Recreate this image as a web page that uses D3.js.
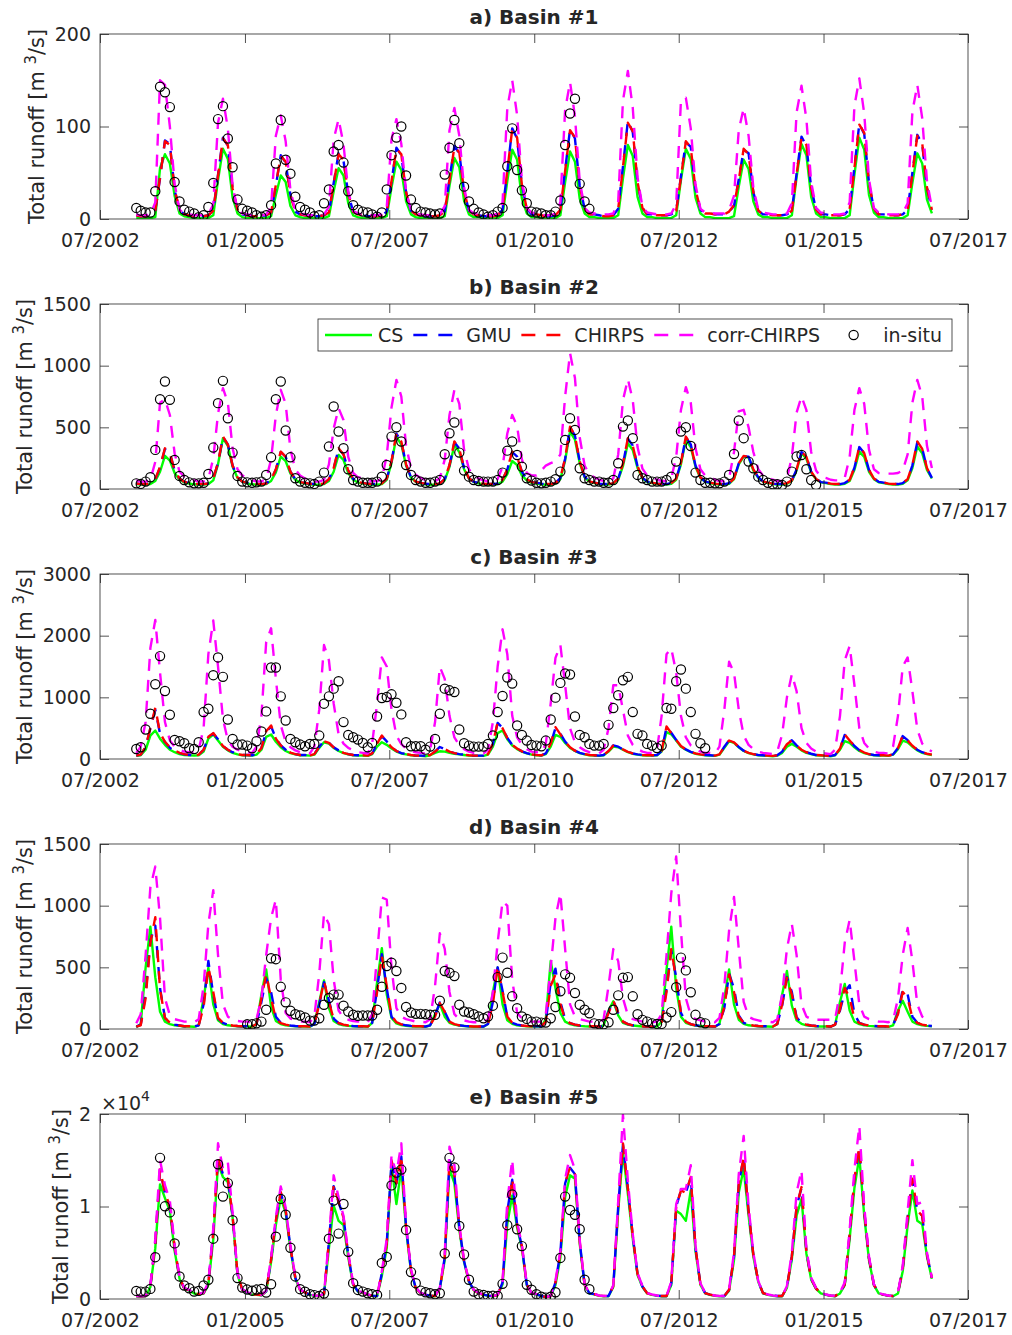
<!DOCTYPE html>
<html>
<head>
<meta charset="utf-8">
<title>Total runoff</title>
<style>
  body { margin: 0; background: #fff; }
  svg text { font-family: "DejaVu Sans", sans-serif; fill: #262626; }
  .axis text { font-size: 19px; }
  .title { font-size: 20px; font-weight: bold; text-anchor: middle; }
  .ylab { font-size: 20.9px; text-anchor: middle; }
  .leg { font-size: 19px; }
</style>
</head>
<body>
<div id="chart"></div>
<script src="https://cdn.jsdelivr.net/npm/d3@7/dist/d3.min.js"></script>
<script>
// ---- labels and axes ----
var panelTitles = ["a) Basin #1", "b) Basin #2", "c) Basin #3", "d) Basin #4", "e) Basin #5"];
var yMaxes = [200, 1500, 3000, 1500, 20000];
var yTicks = [[0, 100, 200], [0, 500, 1000, 1500], [0, 1000, 2000, 3000], [0, 500, 1000, 1500], [0, 10000, 20000]];
var xTickLabels = ["07/2002", "01/2005", "07/2007", "01/2010", "07/2012", "01/2015", "07/2017"];
var seriesNames = ["CS", "GMU", "CHIRPS", "corr-CHIRPS", "in-situ"];
var firstMonth = "01/2003";   // monthly values, Jan 2003 .. Dec 2016 (null = no value)
var nMonths = 168;

// ---- Basin #1 ----
var basin1CS = [
  null,1,1,1,1,2,55,70,60,25,6,3,
  2,1,1,1,1,4,42,76,65,23,6,2,
  1,1,1,1,1,3,26,47,40,14,4,2,
  1,1,1,1,1,3,30,55,47,17,4,2,
  1,1,1,1,1,3,34,62,53,19,5,2,
  1,1,1,1,1,3,36,66,56,20,5,2,
  2,1,1,1,1,4,41,75,64,22,6,2,
  2,1,1,1,1,4,40,73,62,22,6,2,
  2,1,1,1,1,4,44,80,68,24,6,2,
  2,1,1,1,1,4,42,76,65,23,6,2,
  2,1,1,1,1,3,35,64,54,19,5,2,
  2,1,1,1,1,4,45,81,69,24,6,2,
  2,1,1,1,1,4,48,88,75,26,7,2,
  2,1,1,1,1,4,39,71,60,21,6,null];
var basin1GMU = [
  null,4,3,3,4,9,44,85,81,31,10,5,
  4,3,3,3,4,9,48,88,79,33,10,5,
  4,3,3,3,4,7,36,69,61,26,8,5,
  4,3,3,3,4,7,39,71,63,27,8,5,
  4,3,3,3,4,8,40,77,69,29,9,5,
  4,3,3,3,4,8,43,79,71,30,9,5,
  4,3,3,3,4,10,51,98,87,37,11,5,
  5,4,3,3,4,10,53,97,87,36,11,5,
  5,4,3,3,4,11,57,106,94,40,12,5,
  5,4,4,4,5,9,46,83,78,32,10,6,
  6,5,5,5,8,14,43,75,71,29,9,5,
  5,4,4,4,5,9,49,89,79,34,10,5,
  5,4,4,4,5,11,56,103,92,39,11,5,
  5,4,4,4,5,10,50,91,81,34,10,null];
var basin1CHIRPS = [
  null,4,3,3,4,9,45,84,80,32,10,5,
  4,3,3,3,4,9,47,87,80,33,10,5,
  4,3,3,3,4,7,37,68,62,26,8,5,
  4,3,3,3,4,7,38,70,64,27,8,5,
  4,3,3,3,4,8,41,76,70,29,9,5,
  4,3,3,3,4,8,42,78,72,30,9,5,
  4,3,3,3,4,10,52,97,88,37,11,5,
  5,4,3,3,4,10,52,96,88,36,11,5,
  5,4,3,3,4,11,56,104,95,40,12,5,
  5,4,4,4,5,9,45,84,77,32,10,6,
  6,5,5,5,8,15,42,76,70,29,9,5,
  5,4,4,4,5,9,48,88,80,34,10,5,
  5,4,4,4,5,11,55,102,93,39,11,5,
  5,4,4,4,5,10,49,90,82,34,10,null];
var basin1Corr = [
  null,5,4,4,5,18,150,145,100,38,10,6,
  5,4,4,4,5,16,104,130,98,36,10,6,
  5,4,4,4,5,13,90,112,84,31,9,6,
  5,4,4,4,5,13,86,108,81,30,9,6,
  5,4,4,4,5,13,86,108,81,30,9,6,
  5,4,4,4,5,14,96,120,90,34,10,6,
  6,5,4,4,6,18,120,150,112,42,12,7,
  6,5,4,4,6,18,118,148,111,41,12,7,
  6,5,5,5,6,19,128,160,120,45,13,7,
  6,5,5,5,6,16,128,131,98,37,11,7,
  7,6,6,6,10,25,96,120,90,34,10,7,
  6,5,5,5,6,17,115,144,108,40,12,7,
  6,5,5,5,6,18,122,152,114,43,12,7,
  6,5,5,5,6,17,116,145,109,41,12,null];
var basin1Insitu = [
  null,12,9,7,7,30,143,137,121,40,19,10,
  8,6,2,4,13,39,108,122,87,56,21,11,
  9,7,4,2.5,4,15,60,107,64,49,24,13,
  10,7,3,4,17,32,73,80,61,30,15,10,
  8,7,5,2.5,7,32,69,88,100,47,21,12,
  8,7,6,5,6,48,77,107,82,35,19,11,
  7,5,2.5,4,8,12,57,98,53,31,17,8,
  7,6,4,4,8,20,80,114,130,38,19,11,
  null,null,null,null,null,null,null,null,null,null,null,null,
  null,null,null,null,null,null,null,null,null,null,null,null,
  null,null,null,null,null,null,null,null,null,null,null,null,
  null,null,null,null,null,null,null,null,null,null,null,null,
  null,null,null,null,null,null,null,null,null,null,null,null,
  null,null,null,null,null,null,null,null,null,null,null,null];

// ---- Basin #2 ----
var basin2CS = [
  null,40,35,35,40,65,140,268,230,130,75,52,
  45,38,35,35,40,70,200,412,350,180,90,58,
  45,38,35,35,40,65,135,263,225,125,75,52,
  45,38,35,35,40,65,140,276,235,130,75,52,
  45,38,35,35,40,75,210,425,360,190,92,58,
  45,38,35,35,40,70,180,357,300,160,85,56,
  45,38,35,35,40,60,120,227,195,110,70,50,
  45,38,35,35,42,80,230,466,400,210,95,60,
  48,40,36,36,42,75,185,371,315,170,85,56,
  48,40,36,36,42,75,200,398,340,180,90,58,
  48,40,36,36,42,80,200,263,255,150,90,60,
  48,40,36,36,42,65,150,290,245,135,78,54,
  48,40,36,36,42,65,155,303,260,140,80,55,
  48,40,36,36,42,70,170,344,290,155,85,null];
var basin2GMU = [
  null,45,40,40,45,78,175,325,292,152,85,58,
  50,42,40,40,45,85,210,420,362,190,95,60,
  50,42,40,40,45,75,158,300,262,140,80,56,
  50,42,40,40,45,80,168,325,282,150,82,56,
  50,42,40,40,45,85,222,448,388,200,95,60,
  50,42,40,40,45,80,192,380,328,170,88,58,
  50,42,40,40,45,75,158,300,262,140,80,56,
  52,44,40,40,48,90,245,500,433,225,100,62,
  52,44,40,40,48,85,202,408,352,185,92,60,
  52,44,40,40,48,85,212,420,362,190,95,60,
  52,44,40,40,48,85,208,265,262,160,95,62,
  52,44,40,40,48,70,158,300,262,140,82,56,
  52,44,40,40,48,75,172,340,292,155,85,58,
  52,44,40,40,48,80,192,380,328,170,90,null];
var basin2CHIRPS = [
  null,45,40,40,45,80,180,330,290,150,85,58,
  50,42,40,40,45,85,215,425,360,190,95,60,
  50,42,40,40,45,75,160,303,260,140,80,56,
  50,42,40,40,45,80,170,330,280,150,82,56,
  50,42,40,40,45,85,225,452,385,200,95,60,
  50,42,40,40,45,80,195,385,325,170,88,58,
  50,42,40,40,45,75,160,303,260,140,80,56,
  52,44,40,40,48,90,250,506,430,225,100,62,
  52,44,40,40,48,85,205,412,350,185,92,60,
  52,44,40,40,48,85,215,425,360,190,95,60,
  52,44,40,40,48,85,210,268,260,160,95,62,
  52,44,40,40,48,70,160,303,260,140,82,56,
  52,44,40,40,48,75,175,344,290,155,85,58,
  52,44,40,40,48,80,195,385,325,170,90,null];
var basin2Corr = [
  null,70,60,60,75,220,700,728,600,290,140,100,
  90,70,62,62,80,250,610,818,700,330,160,110,
  90,70,62,62,80,240,600,804,690,320,160,110,
  85,68,60,60,75,200,490,655,560,260,130,95,
  90,72,64,64,85,270,660,885,750,350,170,115,
  90,72,64,64,85,240,600,804,690,320,160,110,
  85,70,62,62,80,180,450,601,510,240,130,110,
  110,150,190,210,225,280,750,1102,900,420,190,120,
  95,75,65,65,85,280,720,891,720,340,165,110,
  95,75,65,65,85,260,640,826,700,330,160,110,
  95,75,65,65,85,300,630,642,500,300,160,110,
  95,75,65,65,85,260,620,750,640,300,150,100,
  90,75,70,70,90,260,640,818,690,320,160,130,
  125,125,125,130,150,280,700,885,750,350,170,null];
var basin2Insitu = [
  null,46,41,60,95,317,728,872,723,236,106,73,
  54,46,46,51,122,336,696,877,574,295,106,60,
  54,51,54,60,114,257,728,872,474,257,87,60,
  51,46,41,60,133,344,669,466,330,160,73,60,
  51,51,51,60,100,195,425,501,385,195,114,73,
  60,51,51,60,73,282,452,539,295,149,100,73,
  65,60,60,60,73,133,311,385,276,181,87,68,
  51,46,51,60,79,141,398,574,479,168,87,73,
  60,60,51,51,73,209,506,555,412,114,87,73,
  60,60,60,73,100,222,466,501,349,133,73,51,
  51,46,46,60,114,284,555,412,222,168,100,73,
  51,38,38,32,60,141,263,276,160,73,32,null,
  null,null,null,null,null,null,null,null,null,null,null,null,
  null,null,null,null,null,null,null,null,null,null,null,null];

// ---- Basin #3 ----
var basin3CS = [
  null,50,60,150,380,462,330,230,150,110,80,65,
  60,55,60,120,330,397,300,200,140,100,75,60,
  60,55,70,150,360,397,280,190,130,95,75,60,
  60,55,70,180,272,250,180,130,95,75,60,55,
  55,50,80,200,272,230,170,120,90,75,60,50,
  50,45,60,100,125,120,100,85,75,65,55,50,
  50,50,70,200,420,462,320,220,160,120,90,70,
  60,55,80,200,391,360,260,180,130,95,75,60,
  55,50,60,120,201,190,150,110,85,70,60,55,
  55,60,120,435,400,300,200,150,110,85,70,60,
  55,50,70,180,288,260,190,130,95,75,60,55,
  50,45,55,100,200,245,200,140,100,80,60,55,
  50,45,60,150,288,260,190,130,95,75,60,55,
  55,50,70,160,299,270,200,140,100,80,65,null];
var basin3GMU = [
  null,55,70,190,500,800,410,275,182,130,95,75,
  65,60,70,150,355,415,322,212,150,110,80,65,
  65,60,80,180,440,530,335,222,150,105,80,65,
  65,60,80,200,290,262,190,140,100,80,65,60,
  60,55,90,245,370,285,192,130,95,80,65,55,
  55,50,65,120,195,160,120,95,80,70,60,55,
  55,55,80,245,585,505,342,230,170,125,95,75,
  65,60,90,245,500,410,282,190,135,100,80,65,
  60,55,65,130,222,200,155,115,90,75,65,60,
  60,65,130,515,425,310,210,155,115,90,75,65,
  60,55,75,200,305,270,195,135,100,80,65,60,
  55,50,60,120,245,305,222,150,110,85,65,60,
  55,50,65,170,390,305,210,145,105,80,65,60,
  60,55,75,180,372,305,215,150,110,85,70,null];
var basin3CHIRPS = [
  null,55,70,200,500,832,420,280,190,140,100,80,
  65,60,70,150,360,420,320,210,150,110,80,65,
  65,60,80,180,450,543,330,220,150,105,80,65,
  65,60,80,200,288,260,190,140,100,80,65,60,
  60,55,90,250,380,280,190,130,95,80,65,55,
  55,50,65,120,190,160,120,95,80,70,60,55,
  55,55,80,250,598,500,340,230,170,125,95,75,
  65,60,90,250,516,400,280,190,135,100,80,65,
  60,55,65,130,217,200,155,115,90,75,65,60,
  60,65,130,527,420,310,210,155,115,90,75,65,
  60,55,75,200,300,270,195,135,100,80,65,60,
  55,50,60,120,240,299,220,150,110,85,65,60,
  55,50,65,170,397,300,210,145,105,80,65,60,
  60,55,75,180,380,300,215,150,110,85,70,null];
var basin3Corr = [
  null,100,200,600,1800,2255,1400,600,300,200,150,120,
  110,100,150,500,1700,2245,1500,650,300,200,150,120,
  110,100,200,700,1900,2120,1300,550,280,190,140,110,
  100,90,200,800,1848,1600,900,400,250,180,140,110,
  100,90,250,900,1647,1500,800,380,240,170,130,110,
  100,90,150,600,1495,1300,700,350,220,160,120,100,
  100,90,150,600,1500,2103,1700,700,350,230,160,120,
  110,100,250,900,1640,1848,1200,500,270,190,140,110,
  100,90,150,500,1196,1196,800,380,230,160,120,100,
  100,150,700,1700,1793,1400,700,350,220,160,120,100,
  100,90,200,800,1576,1400,800,380,230,160,120,100,
  90,80,120,400,1000,1375,1100,500,260,170,120,100,
  90,80,150,700,1600,1832,1200,500,260,170,120,100,
  100,90,200,700,1500,1647,1100,480,250,170,120,null];
var basin3Insitu = [
  null,163,190,478,734,1212,1669,1103,717,310,288,255,
  174,163,272,761,815,1359,1647,1332,641,326,234,234,
  217,174,288,446,772,1484,1484,1016,625,326,272,234,
  207,245,245,380,897,1016,1141,1261,598,391,353,315,
  261,190,261,690,989,1005,1049,913,723,272,207,207,
  207,152,201,326,734,1141,1114,1087,478,255,217,201,
  201,201,245,380,761,1022,1321,1223,544,391,299,228,
  217,207,299,641,995,1234,1386,1370,690,391,353,245,
  217,217,245,554,826,1033,1277,1332,761,408,380,245,
  217,179,217,826,815,1261,1451,1141,761,408,255,174,
  null,null,null,null,null,null,null,null,null,null,null,null,
  null,null,null,null,null,null,null,null,null,null,null,null,
  null,null,null,null,null,null,null,null,null,null,null,null,
  null,null,null,null,null,null,null,null,null,null,null,null];

// ---- Basin #4 ----
var basin4CS = [
  null,15,40,500,830,420,140,60,40,30,25,20,
  20,18,30,250,497,200,70,40,30,25,22,20,
  20,18,40,280,483,180,65,40,30,25,22,20,
  20,18,40,220,393,170,65,40,30,25,22,20,
  20,18,50,380,656,280,90,45,32,26,22,20,
  20,18,30,120,202,100,50,35,28,24,20,18,
  18,18,40,300,497,200,70,42,30,25,22,20,
  20,20,80,552,330,130,60,40,30,25,22,20,
  20,18,30,150,224,110,50,35,28,24,20,18,
  18,20,60,480,830,330,100,50,35,28,24,20,
  20,18,40,250,483,200,75,42,30,25,22,20,
  20,18,40,280,470,190,70,42,30,25,22,20,
  20,18,35,220,366,150,60,40,30,25,22,20,
  20,18,30,150,229,140,60,40,30,25,22,null];
var basin4GMU = [
  null,20,35,280,720,839,330,90,50,35,28,22,
  22,20,30,200,552,280,85,50,35,28,24,22,
  22,20,40,220,415,300,100,50,35,28,24,22,
  22,20,40,200,380,230,85,48,35,28,24,22,
  22,20,50,320,607,330,100,52,38,30,25,22,
  22,20,30,110,215,140,60,40,30,25,22,20,
  20,20,40,220,500,310,100,50,35,28,24,22,
  22,22,60,380,489,220,80,48,35,28,24,22,
  22,20,30,140,229,130,60,40,30,25,22,20,
  20,22,50,330,634,420,130,60,40,30,25,22,
  22,20,40,170,448,330,110,50,35,28,24,22,
  22,20,40,190,421,300,95,48,35,28,24,22,
  22,20,35,150,300,355,120,50,35,28,24,22,
  22,20,30,130,320,280,100,50,35,28,24,null];
var basin4CHIRPS = [
  null,20,30,250,700,907,320,90,50,35,28,22,
  22,20,30,180,503,300,90,50,35,28,24,22,
  22,20,40,250,443,250,80,48,35,28,24,22,
  22,20,40,200,388,220,80,48,35,28,24,22,
  22,20,50,300,593,350,110,55,38,30,25,22,
  22,20,30,100,210,140,60,40,30,25,22,20,
  20,20,40,200,511,300,100,50,35,28,24,22,
  22,22,60,350,443,200,80,48,35,28,24,22,
  22,20,30,130,229,130,60,40,30,25,22,20,
  20,22,50,300,648,400,130,60,40,30,25,22,
  22,20,40,180,443,300,100,50,35,28,24,22,
  22,20,40,200,415,280,90,48,35,28,24,22,
  22,20,35,160,333,250,85,48,35,28,24,22,
  22,20,30,120,301,250,90,50,35,28,24,null];
var basin4Corr = [
  null,46,120,600,1150,1317,900,250,110,80,70,60,
  60,55,80,350,850,1126,600,200,100,75,65,60,
  60,55,80,250,600,900,1049,400,130,85,70,60,
  60,55,100,450,934,850,400,150,90,75,65,60,
  60,55,120,600,1066,1050,500,170,100,80,70,60,
  60,55,80,350,776,650,300,120,80,70,60,55,
  55,55,80,300,700,1035,1000,400,130,85,70,60,
  60,60,120,500,900,1098,650,200,100,80,70,60,
  60,55,80,350,648,550,250,110,80,70,60,55,
  55,60,120,600,1100,1399,800,250,110,80,70,60,
  60,55,90,350,800,1071,650,220,100,80,70,60,
  60,55,80,280,650,852,600,200,100,80,75,75,
  75,75,80,300,700,885,550,200,100,80,70,60,
  60,55,70,250,600,820,550,200,100,80,70,null];
var basin4Insitu = [
  null,null,null,null,null,null,null,null,null,null,null,null,
  null,null,null,null,null,null,null,null,null,null,null,null,
  38,38,46,60,156,574,566,342,216,148,120,109,
  93,68,68,87,197,251,279,279,189,142,115,107,
  109,109,109,156,342,511,538,470,333,178,134,123,
  123,120,115,115,229,470,456,429,197,142,134,120,
  101,87,101,189,421,579,456,265,169,101,82,60,
  60,52,52,87,178,306,443,415,292,197,156,128,
  46,38,38,55,156,273,415,421,265,120,74,60,
  46,41,41,93,137,339,579,475,298,115,55,46,
  null,null,null,null,null,null,null,null,null,null,null,null,
  null,null,null,null,null,null,null,null,null,null,null,null,
  null,null,null,null,null,null,null,null,null,null,null,null,
  null,null,null,null,null,null,null,null,null,null,null,null];

// ---- Basin #5 ----
var basin5CS = [
  null,300,280,300,1300,5500,12390,10900,9500,5200,2200,1100,
  900,600,500,600,1530,6450,14645,13190,12640,8820,2620,980,
  700,500,450,400,800,4000,8000,10930,9300,5400,2200,950,
  700,450,350,300,500,5500,10090,8450,8000,4500,1500,800,
  700,450,350,300,2500,5500,14460,10270,14100,7540,2990,1165,
  600,450,350,300,1100,4200,14100,12500,7500,4000,1850,950,
  600,450,350,300,400,1600,8100,11180,7700,5500,1500,620,
  500,300,200,300,1500,4500,11000,13370,13000,6000,1500,600,
  500,350,300,300,1300,9500,15920,11370,6500,2600,1300,600,
  450,350,300,300,1500,9540,9180,8450,11730,5170,1530,620,
  450,350,300,300,900,4200,11500,14100,9000,4600,1850,620,
  450,350,300,300,1200,4300,9000,10820,4900,2100,1100,600,
  450,350,300,600,1500,6500,12000,15370,9000,4200,1500,600,
  450,350,300,600,3000,8000,11730,8450,8090,4600,2200,null];
var basin5GMU = [
  null,320,300,320,1400,6000,13900,11500,10000,5600,2300,1150,
  950,620,520,650,1700,7200,15300,13500,13000,9000,2700,1000,
  720,520,470,420,850,4300,8500,11500,9600,5600,2300,980,
  720,470,370,320,550,6200,12200,10500,8800,4800,1600,820,
  720,470,370,320,2800,6000,14900,12500,15400,7800,3100,1200,
  620,470,370,320,1150,4500,15000,13400,7800,4100,1900,980,
  620,470,370,320,420,1800,9500,12900,8000,5700,1550,640,
  520,320,220,320,1800,5000,12500,14200,13500,6200,1550,620,
  520,370,320,320,1400,10000,16700,12000,6800,2700,1350,620,
  470,370,320,320,1700,10000,11700,11500,13100,5500,1600,640,
  470,370,320,320,1000,4600,12500,15300,9500,4800,1900,640,
  470,370,320,320,1300,4600,10000,12000,5100,2200,1150,620,
  470,370,320,650,1600,7000,13000,16400,9500,4400,1550,620,
  470,370,320,650,3300,8800,12900,9540,9000,4800,2260,null];
var basin5CHIRPS = [
  null,320,300,320,1400,6000,14000,11500,10000,5600,2300,1150,
  950,620,520,650,1700,7200,15370,13500,13000,9000,2700,1000,
  720,520,470,420,850,4300,8500,11550,9600,5600,2300,980,
  720,470,370,320,550,6200,12300,10500,8800,4800,1600,820,
  720,470,370,320,2800,6000,15000,12500,15500,7800,3100,1200,
  620,470,370,320,1150,4500,15000,13500,7800,4100,1900,980,
  620,470,370,320,420,1800,9500,13000,8000,5700,1550,640,
  520,320,220,320,1800,5000,12500,14280,13500,6200,1550,620,
  520,370,320,320,1400,10000,16830,12000,6800,2700,1350,620,
  470,370,320,320,1700,10000,11730,11500,13190,5500,1600,640,
  470,370,320,320,1000,4600,12500,15370,9500,4800,1900,640,
  470,370,320,320,1300,4600,10000,12100,5100,2200,1150,620,
  470,370,320,650,1600,7000,13000,16470,9500,4400,1550,620,
  470,370,320,650,3300,8800,13000,9540,9000,4800,2260,null];
var basin5Corr = [
  null,340,320,340,1500,6500,15010,12300,10600,5900,2400,1200,
  1000,650,550,700,1800,7600,16830,14100,14800,9300,2800,1050,
  750,540,480,430,900,4500,8900,12170,9900,5800,2400,1000,
  750,480,380,330,580,6500,13370,11000,9000,5000,1650,850,
  750,480,380,330,3000,6500,15500,13500,16830,8000,3200,1250,
  650,480,380,330,1200,4800,16470,14500,8000,4200,1950,1000,
  650,480,380,330,440,1900,10500,15080,8300,5900,1600,660,
  540,330,230,330,2000,5200,13000,15560,14000,6400,1600,640,
  540,380,330,330,1500,10600,19930,12800,7000,2800,1400,640,
  490,380,330,330,1900,10270,11900,11900,14460,5800,1700,660,
  490,380,330,330,1100,5000,13500,17630,10000,5000,1950,660,
  490,380,330,330,1400,5000,11500,13920,5400,2300,1200,640,
  490,380,330,700,1800,7500,14000,18720,10000,4600,1600,640,
  490,380,330,700,3600,9500,15010,10270,10460,5000,2300,null];
var basin5Insitu = [
  null,874,800,800,1090,4520,15260,10020,9360,6010,2440,1460,
  1165,800,874,1460,2080,6520,14570,11070,12530,8520,2260,1240,
  1020,900,1020,1090,700,1600,6740,10820,9110,5540,2440,1060,
  780,510,420,330,600,6520,10640,7070,10270,5100,1710,980,
  800,620,510,440,3900,4550,12280,13660,13990,7470,2910,1710,
  910,730,620,510,620,4920,15260,14210,7900,4810,2080,800,
  510,440,330,360,330,1640,7980,11290,7540,5720,1530,1000,
  510,255,150,255,730,4440,11070,9620,9110,7540,2080,1060,
  null,null,null,null,null,null,null,null,null,null,null,null,
  null,null,null,null,null,null,null,null,null,null,null,null,
  null,null,null,null,null,null,null,null,null,null,null,null,
  null,null,null,null,null,null,null,null,null,null,null,null,
  null,null,null,null,null,null,null,null,null,null,null,null,
  null,null,null,null,null,null,null,null,null,null,null,null];

var panels = [
  { cs: basin1CS, gmu: basin1GMU, chirps: basin1CHIRPS, corr: basin1Corr, insitu: basin1Insitu },
  { cs: basin2CS, gmu: basin2GMU, chirps: basin2CHIRPS, corr: basin2Corr, insitu: basin2Insitu },
  { cs: basin3CS, gmu: basin3GMU, chirps: basin3CHIRPS, corr: basin3Corr, insitu: basin3Insitu },
  { cs: basin4CS, gmu: basin4GMU, chirps: basin4CHIRPS, corr: basin4Corr, insitu: basin4Insitu },
  { cs: basin5CS, gmu: basin5GMU, chirps: basin5CHIRPS, corr: basin5Corr, insitu: basin5Insitu }
];

// ---- drawing ----
var width = 1012, height = 1335;
var left = 100, right = 968, panelH = 185, panelStep = 270, firstTop = 34;

var svg = d3.select("#chart").append("svg")
    .attr("width", width)
    .attr("height", height);

var parseMonth = d3.timeParse("%m/%Y");
var start = parseMonth(firstMonth);
var dates = d3.range(nMonths).map(function(i) {
  return new Date(start.getFullYear(), start.getMonth() + i, 15);
});
var xTickDates = xTickLabels.map(parseMonth);

var x = d3.scaleTime()
    .domain([xTickDates[0], xTickDates[xTickDates.length - 1]])
    .range([left, right]);

var styles = [
  { key: "cs",     color: "#00ff00", dash: null },
  { key: "gmu",    color: "#0000ff", dash: "12,9" },
  { key: "chirps", color: "#ff0000", dash: "12,9" },
  { key: "corr",   color: "#ff00ff", dash: "12,9" }
];

panels.forEach(function(p, pi) {
  var top = firstTop + pi * panelStep;
  var bottom = top + panelH;
  var y = d3.scaleLinear().domain([0, yMaxes[pi]]).range([bottom, top]);
  var g = svg.append("g");

  g.append("clipPath").attr("id", "clip" + pi)
    .append("rect").attr("x", left).attr("y", top)
    .attr("width", right - left).attr("height", panelH);

  var plot = g.append("g").attr("clip-path", "url(#clip" + pi + ")");

  var line = d3.line()
      .defined(function(d) { return d != null; })
      .x(function(d, i) { return x(dates[i]); })
      .y(function(d) { return y(d); });

  styles.forEach(function(s) {
    plot.append("path")
      .datum(p[s.key])
      .attr("d", line)
      .attr("fill", "none")
      .attr("stroke", s.color)
      .attr("stroke-width", 2.4)
      .attr("stroke-linejoin", "round")
      .attr("stroke-dasharray", s.dash);
  });

  var pts = p.insitu.map(function(v, i) { return { d: dates[i], v: v }; })
      .filter(function(o) { return o.v != null; });
  plot.selectAll(".pt").data(pts).enter()
    .append("circle")
    .attr("class", "pt")
    .attr("cx", function(o) { return x(o.d); })
    .attr("cy", function(o) { return y(o.v); })
    .attr("r", 4.6)
    .attr("fill", "none")
    .attr("stroke", "#000")
    .attr("stroke-width", 1.2);

  // frame
  g.append("rect")
    .attr("x", left).attr("y", top)
    .attr("width", right - left).attr("height", panelH)
    .attr("fill", "none").attr("stroke", "#262626").attr("stroke-width", 0.8);

  var isE = yMaxes[pi] >= 10000;

  var xb = g.append("g").attr("class", "axis")
      .attr("transform", "translate(0," + bottom + ")")
      .call(d3.axisBottom(x).tickValues(xTickDates)
        .tickFormat(d3.timeFormat("%m/%Y")).tickSizeInner(-9).tickSizeOuter(0).tickPadding(15));
  var xt = g.append("g").attr("class", "axis")
      .attr("transform", "translate(0," + top + ")")
      .call(d3.axisTop(x).tickValues(xTickDates)
        .tickFormat("").tickSizeInner(-9).tickSizeOuter(0));
  var yl = g.append("g").attr("class", "axis")
      .attr("transform", "translate(" + left + ",0)")
      .call(d3.axisLeft(y).tickValues(yTicks[pi])
        .tickFormat(function(d) { return isE ? d / 10000 : d; })
        .tickSizeInner(-9).tickSizeOuter(0).tickPadding(9));
  var yr = g.append("g").attr("class", "axis")
      .attr("transform", "translate(" + right + ",0)")
      .call(d3.axisRight(y).tickValues(yTicks[pi])
        .tickFormat("").tickSizeInner(-9).tickSizeOuter(0));

  [xb, xt, yl, yr].forEach(function(a) {
    a.attr("color", "#262626");
    a.select(".domain").remove();
    a.selectAll("line").attr("stroke-width", 0.8);
  });

  var maxW = 0;
  yl.selectAll("text").each(function() {
    maxW = Math.max(maxW, this.getComputedTextLength());
  });

  // title
  g.append("text").attr("class", "title")
    .attr("x", (left + right) / 2).attr("y", top - 10)
    .text(panelTitles[pi]);

  // y label
  var lab = g.append("text").attr("class", "ylab")
    .attr("transform", "translate(" + (left - 9 - maxW - 11) + "," + (top + panelH / 2) + ") rotate(-90)");
  lab.append("tspan").text("Total runoff [m ");
  lab.append("tspan").attr("dy", -8).attr("font-size", "15px").text("3");
  lab.append("tspan").attr("dy", 8).text("/s]");

  if (isE) {
    var ex = g.append("text").attr("x", left + 1).attr("y", top - 4).attr("font-size", "19px");
    ex.append("tspan").text("\u00d710");
    ex.append("tspan").attr("dy", -9).attr("font-size", "14px").text("4");
  }

  // legend in panel b
  if (pi === 1) {
    var lx = 318, ly = top + 15, lh = 32;
    var lg = g.append("g");
    var box = lg.append("rect");
    var cx = lx + 7;
    seriesNames.forEach(function(name, si) {
      if (si < styles.length) {
        lg.append("line")
          .attr("x1", cx).attr("x2", cx + 47)
          .attr("y1", ly + 16).attr("y2", ly + 16)
          .attr("stroke", styles[si].color)
          .attr("stroke-width", 2.4)
          .attr("stroke-dasharray", styles[si].dash ? "14,11" : null);
      } else {
        lg.append("circle")
          .attr("cx", cx + 23.5).attr("cy", ly + 16).attr("r", 4.6)
          .attr("fill", "none").attr("stroke", "#000").attr("stroke-width", 1.2);
      }
      var t = lg.append("text").attr("class", "leg")
        .attr("x", cx + 53).attr("y", ly + 16).attr("dy", "0.36em")
        .text(name);
      cx = cx + 53 + t.node().getComputedTextLength() + 10;
    });
    box.attr("x", lx).attr("y", ly).attr("width", cx - lx).attr("height", lh)
      .attr("fill", "#fff").attr("stroke", "#262626").attr("stroke-width", 0.8);
  }
});
</script>
</body>
</html>
